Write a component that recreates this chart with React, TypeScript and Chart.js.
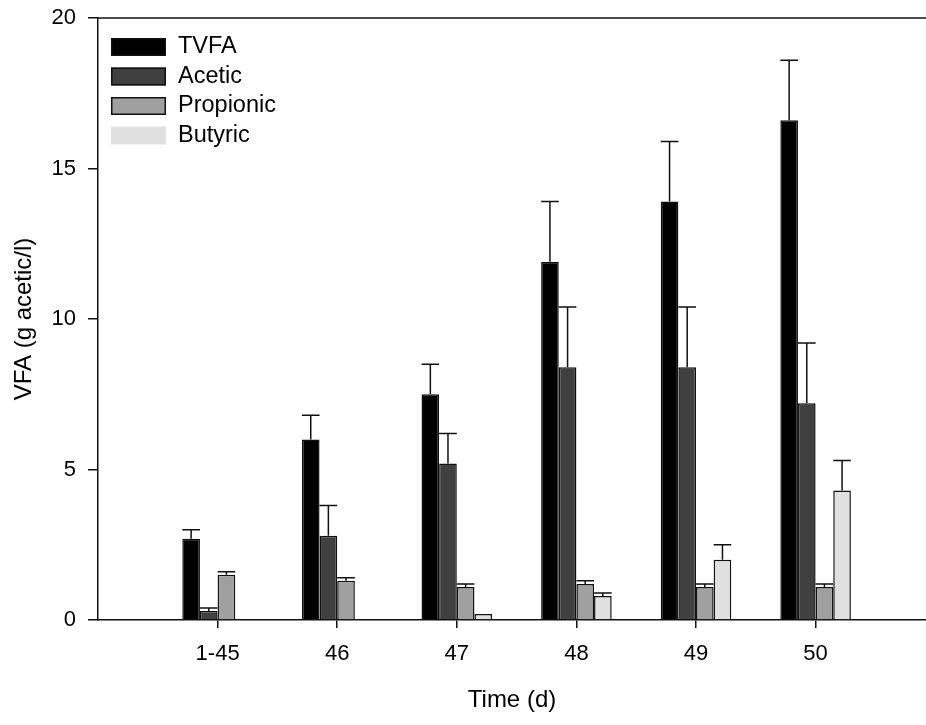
import React, { useEffect, useRef } from "react";
import { Chart, registerables } from "chart.js";

Chart.register(...registerables);

const categories = ["1-45", "46", "47", "48", "49", "50"];
const tvfa = [2.7, 6.0, 7.5, 11.9, 13.9, 16.6];
const tvfaErr = [3.0, 6.8, 8.5, 13.9, 15.9, 18.6];
const acetic = [0.3, 2.8, 5.2, 8.4, 8.4, 7.2];
const aceticErr = [0.4, 3.8, 6.2, 10.4, 10.4, 9.2];
const propionic = [1.5, 1.3, 1.1, 1.2, 1.1, 1.1];
const propionicErr = [1.6, 1.4, 1.2, 1.3, 1.2, 1.2];
const butyric = [0, 0, 0.2, 0.8, 2.0, 4.3];
const butyricErr = [0, 0, 0.2, 0.9, 2.5, 5.3];
const yTicks = [0, 5, 10, 15, 20];

const FONT = "'Liberation Sans', Arial, sans-serif";

const seriesDefs = [
  { label: "TVFA", values: tvfa, err: tvfaErr, color: "#000000", legendBorder: true },
  { label: "Acetic", values: acetic, err: aceticErr, color: "#404040", legendBorder: true },
  { label: "Propionic", values: propionic, err: propionicErr, color: "#a0a0a0", legendBorder: true },
  { label: "Butyric", values: butyric, err: butyricErr, color: "#e0e0e0", legendBorder: false },
];

const extrasPlugin = {
  id: "extras",
  afterDatasetsDraw(chart: any) {
    const ctx = chart.ctx;
    const yScale = chart.scales.y;
    const area = chart.chartArea;
    ctx.save();
    // error bars
    ctx.strokeStyle = "#111";
    ctx.lineWidth = 1.5;
    chart.data.datasets.forEach((ds: any, di: number) => {
      const meta = chart.getDatasetMeta(di);
      const errs = seriesDefs[di].err;
      meta.data.forEach((bar: any, i: number) => {
        const v = seriesDefs[di].values[i];
        const e = errs[i];
        if (!(e > v)) return;
        const yTop = yScale.getPixelForValue(e);
        const w = bar.width;
        ctx.beginPath();
        ctx.moveTo(bar.x, bar.y);
        ctx.lineTo(bar.x, yTop);
        ctx.moveTo(bar.x - w / 2, yTop);
        ctx.lineTo(bar.x + w / 2, yTop);
        ctx.stroke();
      });
    });
    // top frame line
    ctx.strokeStyle = "#111";
    ctx.lineWidth = 1.5;
    ctx.beginPath();
    ctx.moveTo(area.left, area.top);
    ctx.lineTo(area.right, area.top);
    ctx.stroke();
    // legend
    const lx = area.left + 13;
    const ly = area.top + 20;
    ctx.font = `23.5px ${FONT}`;
    ctx.textBaseline = "middle";
    ctx.textAlign = "left";
    seriesDefs.forEach((s, i) => {
      const y = ly + i * 29.5;
      ctx.fillStyle = s.color;
      ctx.fillRect(lx, y, 55, 18);
      if (s.legendBorder) {
        ctx.strokeStyle = "#111";
        ctx.lineWidth = 1.5;
        ctx.strokeRect(lx + 0.75, y + 0.75, 53.5, 16.5);
      }
      ctx.fillStyle = "#000";
      ctx.fillText(s.label, lx + 67, y + 9);
    });
    ctx.restore();
  },
};

export default function App() {
  const ref = useRef<HTMLCanvasElement>(null);
  useEffect(() => {
    document.body.style.margin = "0";
    const canvas = ref.current;
    if (!canvas) return;
    const chart = new Chart(canvas, {
      type: "bar",
      data: {
        datasets: seriesDefs.map((s) => ({
          label: s.label,
          data: s.values.map((v, i) => ({ x: i + 1, y: v })),
          backgroundColor: s.color,
          borderColor: "#111",
          borderWidth: 1.5,
          categoryPercentage: 0.59,
          barPercentage: 1,
        })),
      },
      options: {
        responsive: false,
        animation: false,
        devicePixelRatio: 1,
        layout: { padding: { top: 18, right: 0, bottom: 0, left: 0 } },
        plugins: {
          legend: { display: false },
          tooltip: { enabled: false },
        },
        scales: {
          x: {
            type: "linear",
            min: 0,
            max: 6.923,
            offset: false,
            afterBuildTicks: (scale: any) => {
              scale.ticks = categories.map((_, i) => ({ value: i + 1 }));
            },
            afterFit: (scale: any) => {
              scale.height = 105;
              scale.paddingLeft = 0;
              scale.paddingRight = 0;
            },
            ticks: {
              callback: (v: any) => categories[Number(v) - 1] ?? "",
              font: { family: FONT, size: 22 },
              color: "#000",
              padding: 13,
              maxRotation: 0,
              autoSkip: false,
            },
            grid: {
              display: true,
              offset: false,
              drawOnChartArea: false,
              drawTicks: true,
              tickLength: 8,
              color: "#111",
              lineWidth: 1.5,
            },
            border: { display: true, color: "#111", width: 1.5 },
            title: {
              display: true,
              text: "Time (d)",
              font: { family: FONT, size: 24 },
              color: "#000",
              padding: { top: 0, bottom: 10 },
            },
          },
          y: {
            type: "linear",
            min: 0,
            max: 20,
            afterBuildTicks: (scale: any) => {
              scale.ticks = yTicks.map((v) => ({ value: v }));
            },
            afterFit: (scale: any) => {
              scale.width = 98;
              scale.paddingTop = 0;
              scale.paddingBottom = 0;
            },
            ticks: {
              font: { family: FONT, size: 22 },
              color: "#000",
              padding: 12,
            },
            grid: {
              display: true,
              drawOnChartArea: false,
              drawTicks: true,
              tickLength: 10,
              color: "#111",
              lineWidth: 1.5,
            },
            border: { display: true, color: "#111", width: 1.5 },
            title: {
              display: true,
              text: "VFA (g acetic/l)",
              font: { family: FONT, size: 24 },
              color: "#000",
              padding: { top: 10, bottom: 0 },
            },
          },
        },
      },
      plugins: [extrasPlugin],
    } as any);
    return () => chart.destroy();
  }, []);
  return (
    <div style={{ width: 926, height: 725 }}>
      <canvas ref={ref} width={926} height={725} style={{ display: "block" }} />
    </div>
  );
}
